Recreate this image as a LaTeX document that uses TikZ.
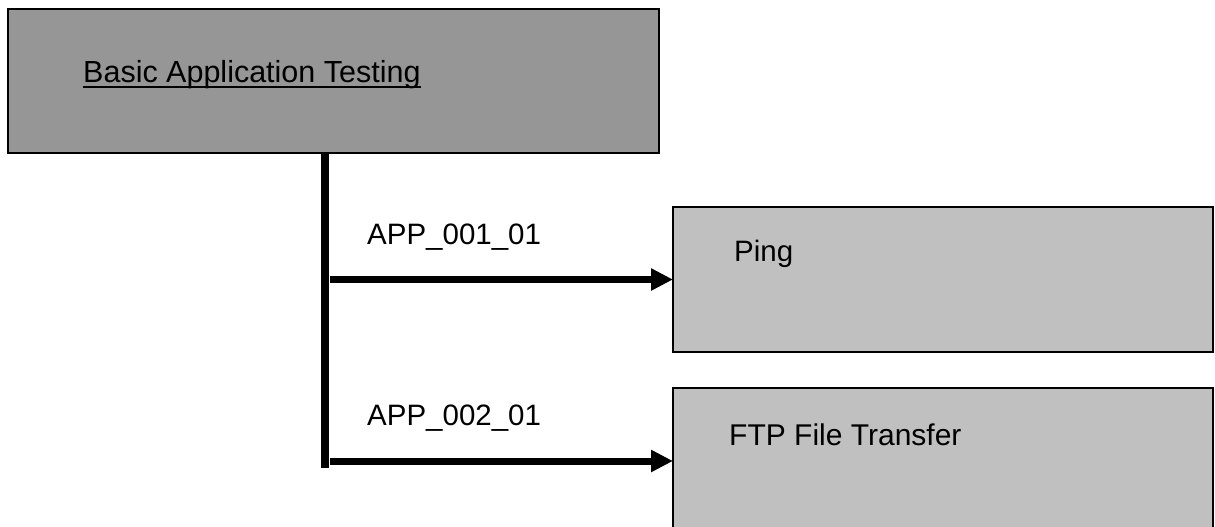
\documentclass[tikz,border=0pt]{standalone}
\usepackage{fontspec}
\setmainfont{Liberation Sans}
\usetikzlibrary{arrows.meta}
\definecolor{topgray}{RGB}{150,150,150}
\definecolor{subgray}{RGB}{192,192,192}
\begin{document}
\begin{tikzpicture}[x=1pt,y=-1pt,
  boxbase/.style={draw=black, line width=1.5pt, inner sep=0pt, outer sep=0pt, anchor=north west},
  topbox/.style={boxbase, fill=topgray},
  subbox/.style={boxbase, fill=subgray},
  txt/.style={anchor=base west, inner sep=0pt, font=\fontsize{29.5}{35}\selectfont},
  trunk/.style={line width=8pt},
  branch/.style={line width=7pt, -{Triangle[length=22pt,width=21pt]}}]
\useasboundingbox (0,0) rectangle (1215,527);
\clip (0,0) rectangle (1215,527);
\fill[white] (0,0) rectangle (1215,527);
% boxes
\node[topbox, minimum width=651pt, minimum height=144pt] (top) at (8,9) {};
\node[subbox, minimum width=540pt, minimum height=145pt] (ping) at (673,207) {};
\node[subbox, minimum width=540pt, minimum height=146pt] (ftp) at (673,388) {};
% texts
\node[txt, font=\fontsize{30.5}{36}\selectfont] (toptext) at (83,82) {Basic Application Testing};
\draw[line width=2pt] ([yshift=-5pt]toptext.base west) -- ([yshift=-5pt]toptext.base east);
\node[txt] (pingtext) at (734,261) {Ping};
\node[txt, font=\fontsize{30}{36}\selectfont] (ftptext) at (729,445) {FTP File Transfer};
\node[txt] (lab1) at (367,244) {APP\_001\_01};
\node[txt] (lab2) at (367,425) {APP\_002\_01};
% connectors
\coordinate (v1) at (325,153);
\coordinate (v2) at (325,468);
\draw[trunk] (v1) -- (v2);
\coordinate (a1) at (330,279.5);
\coordinate (a2) at (330,461);
\draw[branch] (a1) -- (a1 -| ping.west);
\draw[branch] (a2) -- (a2 -| ftp.west);
\end{tikzpicture}
\end{document}
